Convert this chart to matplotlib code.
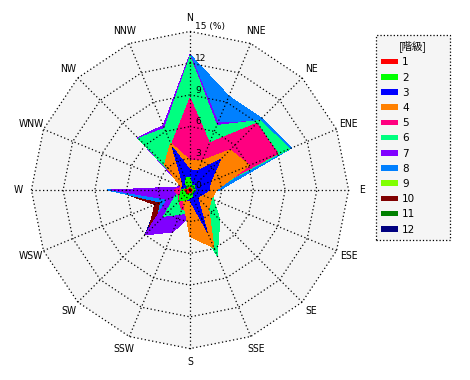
import numpy as np
import matplotlib
matplotlib.use("Agg")
import matplotlib.pyplot as plt
from matplotlib.patches import Polygon

plt.rcParams['font.family'] = ['DejaVu Sans', 'Noto Sans CJK JP']

# 16 directions, clockwise from north
directions = ['N', 'NNE', 'NE', 'ENE', 'E', 'ESE', 'SE', 'SSE',
              'S', 'SSW', 'SW', 'WSW', 'W', 'WNW', 'NW', 'NNW']
classes = ['1', '2', '3', '4', '5', '6', '7', '8', '9', '10', '11', '12']
colors = ['#ff0000', '#00ff00', '#0000ff', '#ff8000', '#ff0080', '#00ff80',
          '#8000ff', '#0080ff', '#80ff00', '#800000', '#008000', '#000080']

# frequency (%) per class, per direction
c1 = [0.2, 0.2, 0.2, 0.2, 0.2, 0.2, 0.2, 0.3, 0.2, 0.3, 0.5, 0.4, 0.5, 0.2, 0.2, 0.2]
c2 = [1.2, 0.5, 0.6, 0.4, 0.5, 0.4, 0.4, 0.6, 0.8, 1.0, 1.5, 1.0, 0.8, 0.4, 0.5, 1.2]
c3 = [1.9, 2.0, 4.1, 2.1, 1.8, 1.2, 1.0, 4.2, 1.0, 1.0, 0.8, 0.8, 0.8, 0.8, 1.0, 4.4]
c4 = [2.8, 3.0, 5.35, 6.1, 2.5, 2.2, 2.5, 5.9, 4.4, 1.5, 1.0, 0.8, 0.8, 1.0, 3.4, 4.8]
c5 = [8.7, 4.8, 8.9, 9.0, 1.9, 1.5, 2.5, 5.7, 1.5, 2.0, 1.5, 1.2, 1.5, 0.8, 2.0, 4.6]
c6 = [12.6, 6.6, 9.3, 10.2, 2.0, 2.4, 4.0, 6.7, 2.0, 2.5, 3.5, 1.5, 1.0, 0.5, 6.9, 6.3]
c7 = [12.8, 6.9, 9.15, 5.0, 1.5, 1.0, 1.5, 3.0, 2.5, 4.3, 6.0, 2.3, 7.4, 0.8, 7.0, 6.6]
c8 = [12.8, 9.6, 9.6, 10.4, 2.8, 1.2, 1.5, 2.0, 1.5, 2.5, 4.5, 3.0, 7.8, 0.5, 1.0, 3.0]
c9 = [1.0, 0.5, 0.5, 0.3, 0.3, 0.3, 0.3, 0.4, 0.5, 0.6, 0.8, 0.6, 1.0, 0.4, 0.5, 0.8]
c10 = [0.3, 0.2, 0.2, 0.2, 0.2, 0.2, 0.2, 0.2, 0.3, 1.5, 5.6, 3.6, 7.1, 0.3, 0.3, 0.3]
c11 = [0.3, 0.2, 0.2, 0.2, 0.2, 0.2, 0.2, 0.2, 0.3, 1.2, 5.3, 3.4, 6.9, 0.3, 0.3, 0.3]
c12 = [0.3, 0.2, 0.2, 0.2, 0.2, 0.2, 0.2, 0.2, 0.3, 1.2, 6.0, 3.3, 7.3, 0.3, 0.3, 0.3]
values = [c1, c2, c3, c4, c5, c6, c7, c8, c9, c10, c11, c12]

rings = [3, 6, 9, 12, 15]
rmax = 15

theta = np.deg2rad(np.arange(16) * 22.5)


def to_xy(r):
    r = np.asarray(r, dtype=float)
    return np.column_stack([r * np.sin(theta), r * np.cos(theta)])


fig = plt.figure(figsize=(4.7, 3.8), dpi=100)
lim = rmax * 170 / 158.6
ax = fig.add_axes([20 / 470, 20 / 380, 340 / 470, 340 / 380])
ax.set_xlim(-lim, lim)
ax.set_ylim(-lim, lim)
ax.set_aspect('equal')
ax.axis('off')

# background
ax.add_patch(Polygon(to_xy([rmax] * 16), closed=True, facecolor='#f5f5f5',
                     edgecolor='none', zorder=0))

# class polygons, largest class number at the back
handles = []
for i in range(len(classes) - 1, -1, -1):
    p = Polygon(to_xy(values[i]), closed=True, facecolor=colors[i],
                edgecolor='none', antialiased=False, zorder=2 + (12 - i) * 0.01,
                label=classes[i])
    ax.add_patch(p)
    handles.append(p)
handles = handles[::-1]

# polygonal grid
dots = (0, (1, 2))
for r in rings:
    pts = to_xy([r] * 16)
    pts = np.vstack([pts, pts[:1]])
    ax.plot(pts[:, 0], pts[:, 1], color='black', lw=0.9, linestyle=dots, zorder=5)
for t in theta:
    ax.plot([0, rmax * np.sin(t)], [0, rmax * np.cos(t)], color='black',
            lw=0.9, linestyle=dots, zorder=5)

# direction labels
for name, t in zip(directions, theta):
    ax.text(16.25 * np.sin(t), 16.25 * np.cos(t), name, ha='center', va='center',
            fontsize=7.5, fontstretch='condensed', zorder=6)

# radial tick labels
for r in [0] + rings:
    txt = '15 (%)' if r == 15 else str(r)
    ax.text(0.5, r + 0.45, txt, ha='left', va='center', fontsize=6.5, zorder=6)

leg = fig.legend(handles=handles, labels=classes, title='[階級]',
                 loc='upper left',
                 bbox_to_anchor=(376 / 470, 1 - 243 / 380, 74 / 470, 208 / 380),
                 mode='expand', fontsize=7.5, title_fontsize=7.5, fancybox=False,
                 edgecolor='black', facecolor='#f5f5f5', framealpha=1,
                 handlelength=1.6, handleheight=0.45, handletextpad=0.4,
                 labelspacing=0.5, borderpad=0.5, borderaxespad=0)
leg.get_frame().set_linestyle(':')
leg.get_frame().set_linewidth(0.9)
leg.get_title().set_family(['Noto Sans CJK JP', 'DejaVu Sans'])

fig.savefig('out.png', dpi=100)
